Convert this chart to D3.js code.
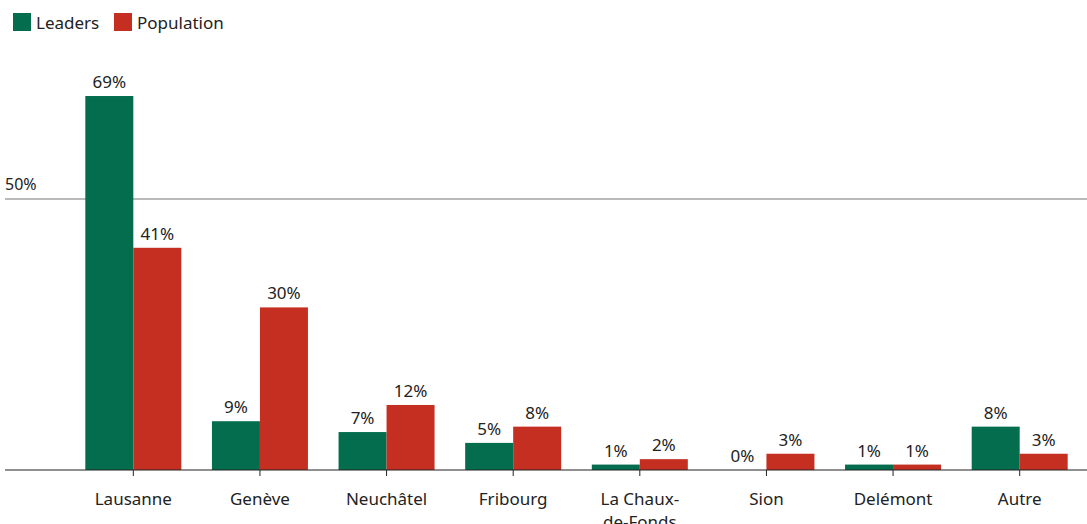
<!DOCTYPE html>
<meta charset="utf-8">
<html>
<head>
<style>
  body { margin: 0; background: #fff; }
  text { font-family: "Noto Sans", sans-serif; fill: #222; }
</style>
</head>
<body>
<div id="chart"></div>
<script src="https://d3js.org/d3.v7.min.js"></script>
<script>

// data
var cities = ["Lausanne", "Genève", "Neuchâtel", "Fribourg", "La Chaux-de-Fonds", "Sion", "Delémont", "Autre"];
var leaders = [69, 9, 7, 5, 1, 0, 1, 8];
var population = [41, 30, 12, 8, 2, 3, 1, 3];
var seriesNames = ["Leaders", "Population"];
var gridTicks = [50];

var colors = { Leaders: "#036d4e", Population: "#c52f21" };

var width = 1087, height = 524;
var baseY = 470;

var svg = d3.select("#chart").append("svg")
    .attr("width", width)
    .attr("height", height);

var x = d3.scaleBand()
    .domain(cities)
    .range([70, 1083]);

var sub = d3.scaleBand()
    .domain(seriesNames)
    .range([x.bandwidth() / 2 - 48, x.bandwidth() / 2 + 48]);

var y = d3.scaleLinear()
    .domain([0, 50])
    .range([baseY, 199]);

// 50% gridline
gridTicks.forEach(function(t) {
  svg.append("line")
    .attr("x1", 5).attr("x2", width)
    .attr("y1", y(t)).attr("y2", y(t))
    .attr("stroke", "#777").attr("stroke-width", 1.2);
  svg.append("text")
    .attr("x", 5).attr("y", y(t) - 9)
    .style("font-size", "16px")
    .text(t + "%");
});

// legend
var leg = svg.append("g").attr("transform", "translate(13,13)");
var legX = [0, 101];
seriesNames.forEach(function(s, i) {
  leg.append("rect")
    .attr("x", legX[i]).attr("y", 0)
    .attr("width", 18).attr("height", 18)
    .attr("fill", colors[s]);
  leg.append("text")
    .attr("x", legX[i] + 23).attr("y", 16)
    .style("font-size", "17px")
    .text(s);
});

var rows = cities.map(function(c, i) {
  return { city: c, vals: [
    { key: "Leaders", v: leaders[i] },
    { key: "Population", v: population[i] }
  ]};
});

var groups = svg.selectAll(".grp")
  .data(rows)
  .enter().append("g")
    .attr("transform", function(d) { return "translate(" + x(d.city) + ",0)"; });

groups.selectAll("rect")
  .data(function(d) { return d.vals; })
  .enter().append("rect")
    .attr("x", function(d) { return sub(d.key); })
    .attr("y", function(d) { return y(d.v); })
    .attr("width", sub.bandwidth())
    .attr("height", function(d) { return baseY - y(d.v); })
    .attr("fill", function(d) { return colors[d.key]; });

groups.selectAll(".lbl")
  .data(function(d) { return d.vals; })
  .enter().append("text")
    .attr("text-anchor", "middle")
    .attr("x", function(d) { return sub(d.key) + sub.bandwidth() / 2; })
    .attr("y", function(d) { return y(d.v) - 8; })
    .style("font-size", "17px")
    .text(function(d) { return d.v + "%"; });

// baseline axis
svg.append("line")
  .attr("x1", 5).attr("x2", width)
  .attr("y1", baseY).attr("y2", baseY)
  .attr("stroke", "#222").attr("stroke-width", 1.2);

groups.append("line")
  .attr("x1", x.bandwidth() / 2).attr("x2", x.bandwidth() / 2)
  .attr("y1", baseY).attr("y2", baseY + 6)
  .attr("stroke", "#222");

groups.append("text")
  .attr("text-anchor", "middle")
  .attr("x", x.bandwidth() / 2)
  .attr("y", baseY + 35)
  .style("font-size", "17px")
  .each(function(d) {
    var parts = d.city == "La Chaux-de-Fonds" ? ["La Chaux-", "de-Fonds"] : [d.city];
    var t = d3.select(this);
    parts.forEach(function(p, i) {
      t.append("tspan")
        .attr("x", x.bandwidth() / 2)
        .attr("dy", i == 0 ? 0 : 23)
        .text(p);
    });
  });

</script>
</body>
</html>
